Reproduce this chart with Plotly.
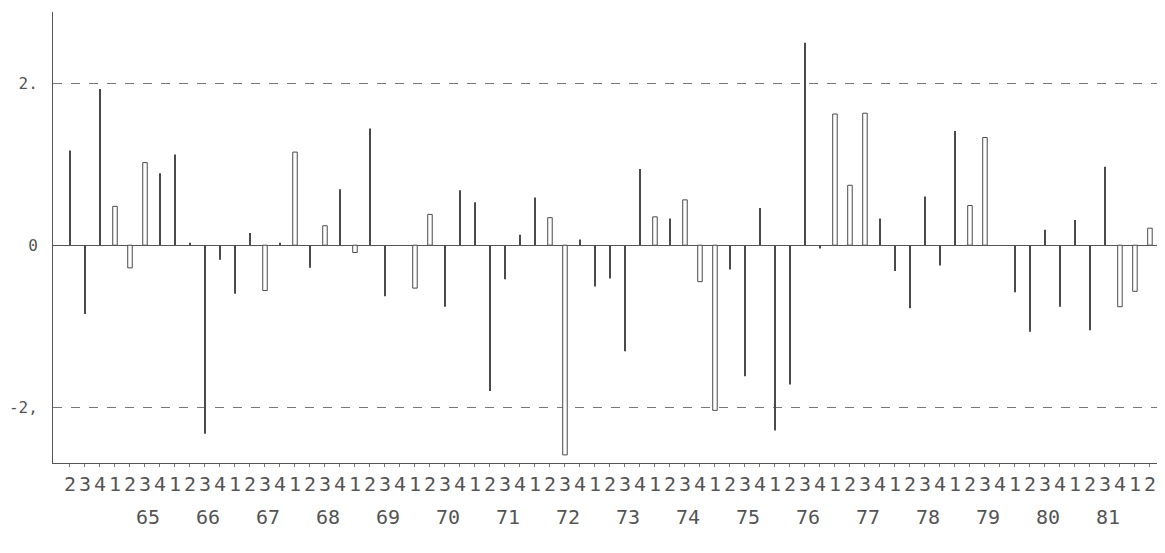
import plotly.graph_objects as go

# Quarterly series, 1964 Q2 .. 1982 Q2
start_year = 1964
start_quarter = 2
values = [
    1.17, -0.85, 1.93,                      # 1964 Q2-Q4
    0.48, -0.28, 1.02, 0.89,                # 1965
    1.12, 0.03, -2.33, -0.18,               # 1966
    -0.60, 0.15, -0.56, 0.03,               # 1967
    1.15, -0.28, 0.24, 0.69,                # 1968
    -0.09, 1.44, -0.63, 0.0,                # 1969
    -0.53, 0.38, -0.76, 0.68,               # 1970
    0.53, -1.80, -0.42, 0.13,               # 1971
    0.59, 0.34, -2.59, 0.07,                # 1972
    -0.51, -0.41, -1.31, 0.94,              # 1973
    0.35, 0.33, 0.56, -0.45,                # 1974
    -2.04, -0.30, -1.62, 0.46,              # 1975
    -2.29, -1.72, 2.50, -0.04,              # 1976
    1.62, 0.74, 1.63, 0.33,                 # 1977
    -0.32, -0.78, 0.60, -0.25,              # 1978
    1.41, 0.49, 1.33, 0.0,                  # 1979
    -0.58, -1.07, 0.19, -0.76,              # 1980
    0.31, -1.05, 0.97, -0.76,               # 1981
    -0.57, 0.21,                            # 1982 Q1-Q2
]
y_tick_vals = [-2, 0, 2]
y_tick_text = ["-2,", "0", "2."]
year_labels = ["65", "66", "67", "68", "69", "70", "71", "72", "73",
               "74", "75", "76", "77", "78", "79", "80", "81"]

# style: which bars are drawn as outlined (hollow) rectangles
hollow_idx = {3, 4, 5, 13, 15, 17, 19, 23, 24, 32, 33, 39, 41, 42, 43,
              51, 52, 53, 60, 61, 70, 71, 72}

n = len(values)
idx = list(range(n))
quarters = [str((start_quarter - 1 + i) % 4 + 1) for i in idx]

ink = "#4a4a4a"
font = dict(family="DejaVu Sans Mono", size=20, color="#555555")

fig = go.Figure()
fig.add_trace(go.Bar(
    x=[i for i in idx if i not in hollow_idx],
    y=[values[i] for i in idx if i not in hollow_idx],
    width=0.12,
    marker=dict(color=ink, line=dict(width=0)),
    hoverinfo="x+y",
))
fig.add_trace(go.Bar(
    x=[i for i in idx if i in hollow_idx],
    y=[values[i] for i in idx if i in hollow_idx],
    width=0.3,
    marker=dict(color="white", line=dict(width=1, color=ink)),
    hoverinfo="x+y",
))

# year labels under the third quarter of each year
first_q1 = (4 - start_quarter + 1) % 4  # index of first Q1
for k, lab in enumerate(year_labels):
    fig.add_annotation(
        x=first_q1 + 4 * k + 2.2, y=-0.12, xref="x", yref="paper",
        text=lab, showarrow=False, font=font, xanchor="center", yanchor="middle",
    )

fig.update_layout(
    width=1149, height=537,
    margin=dict(l=45, r=0, t=4, b=82),
    paper_bgcolor="white", plot_bgcolor="white",
    barmode="overlay", showlegend=False,
    xaxis=dict(
        range=[-1.133, 72.47], automargin=False,
        tickmode="array", tickvals=idx, ticktext=quarters,
        tickfont=font, ticks="outside", ticklen=3, tickcolor="#777777",
        showline=True, linecolor="#555555", linewidth=1,
        showgrid=False, zeroline=False, tickangle=0,
    ),
    yaxis=dict(
        range=[-2.69, 2.88], automargin=False,
        tickmode="array", tickvals=y_tick_vals, ticktext=y_tick_text,
        tickfont=dict(family="DejaVu Sans Mono", size=16, color="#555555"),
        ticks="outside", ticklen=11, tickcolor="rgba(0,0,0,0)",
        showline=True, linecolor="#555555", linewidth=1,
        showgrid=True, gridcolor="#777777", griddash="dash", gridwidth=1,
        zeroline=True, zerolinecolor="#555555", zerolinewidth=1,
    ),
)

fig.write_html("out.html")
